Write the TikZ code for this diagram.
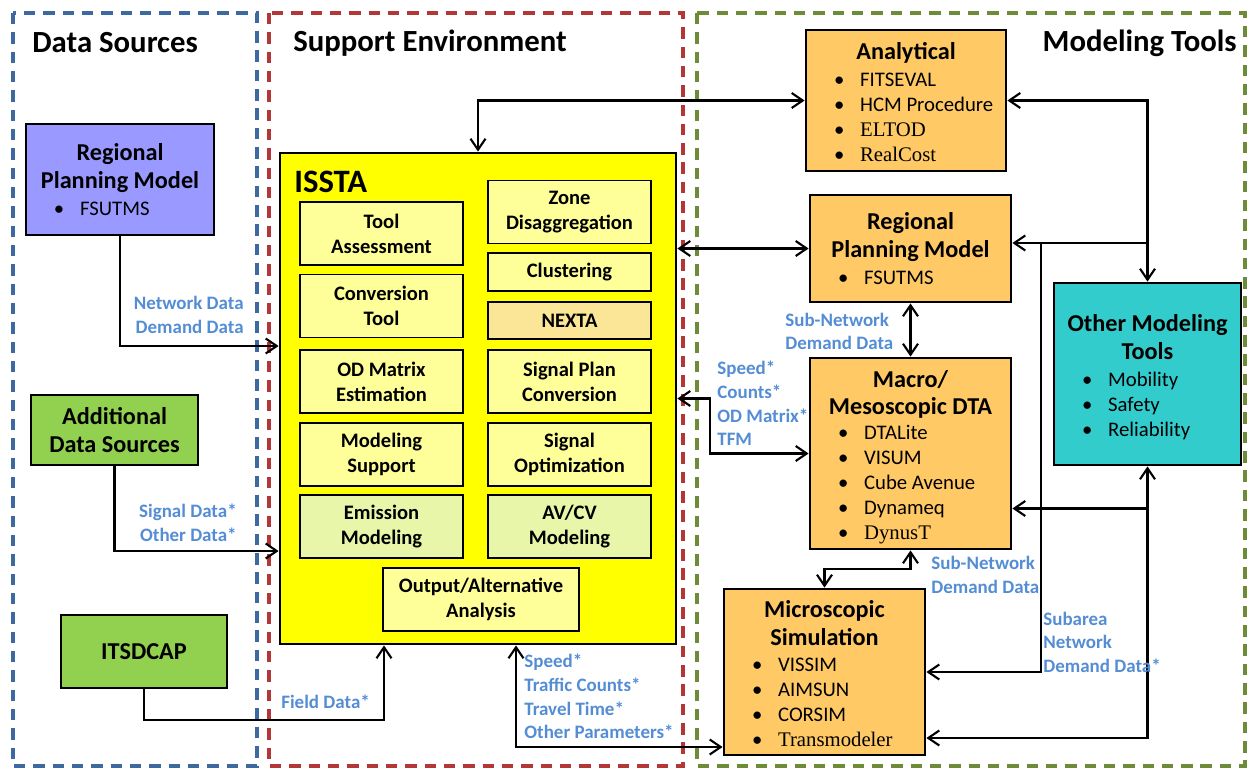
\documentclass[tikz,border=0pt]{standalone}
\usepackage{fontspec}
\setmainfont{Carlito}
\newfontfamily\tnr{Liberation Serif}
\usetikzlibrary{arrows.meta}

\definecolor{srcblue}{RGB}{60,105,160}
\definecolor{envred}{RGB}{180,55,55}
\definecolor{toolgreen}{RGB}{110,140,55}
\definecolor{rpmpurple}{RGB}{153,153,255}
\definecolor{srcgreen}{RGB}{146,208,80}
\definecolor{isstayellow}{RGB}{255,255,0}
\definecolor{subyellow}{RGB}{255,255,153}
\definecolor{nextatan}{RGB}{250,230,150}
\definecolor{subgreen}{RGB}{232,246,170}
\definecolor{toolorange}{RGB}{255,201,102}
\definecolor{otherteal}{RGB}{51,204,204}
\definecolor{lblblue}{RGB}{84,141,212}

\newcommand{\ttlfont}{\bfseries\fontsize{13.8}{16}\selectfont}
\newcommand{\itmfont}{\mdseries\fontsize{11.8}{14.2}\selectfont}
% bullet list, indented from the left edge of a box of width #1
\newcommand{\itemsof}[2]{\raisebox{0pt}[\height][\dimexpr\depth-6pt\relax]{%
    \makebox[#1][l]{\hspace{5.6mm}{\itmfont
    \begin{tabular}[t]{@{}l@{\hspace{9pt}}l@{}}#2\end{tabular}}}}}

\begin{document}
\begin{tikzpicture}[x=0.2mm, y=-0.2mm, >={Straight Barb[length=2.2mm, width=3mm]},
    frame/.style={line width=1.9pt, dash pattern=on 6.5pt off 4.5pt},
    ttl/.style={inner sep=0pt, font=\bfseries\fontsize{17.5}{20}\selectfont},
    tool/.style={draw, line width=1.6pt, align=center, inner sep=0pt, font=\ttlfont},
    sub/.style={draw, line width=1.1pt, fill=subyellow, align=center, inner sep=0pt,
        minimum width=32.6mm, minimum height=12.6mm,
        font=\bfseries\fontsize{11.7}{14.2}\selectfont},
    lbl/.style={text=lblblue, inner sep=0pt, font=\bfseries\fontsize{10.8}{13.4}\selectfont},
    conn/.style={line width=1.2pt}]
\useasboundingbox (0,0) rectangle (1248,770);

% the three areas
\draw[frame, draw=srcblue] (13,13) rectangle (257,766);
\draw[frame, draw=envred] (269,13) rectangle (683,766);
\draw[frame, draw=toolgreen] (697,13) rectangle (1245,766);
\node[ttl, anchor=west] (src_ttl) at (32,43) {Data Sources};
\node[ttl, anchor=west] (env_ttl) at (293,43) {Support Environment};
\node[ttl, anchor=east] (tool_ttl) at (1237,43) {Modeling Tools};

% data sources
\node[tool, fill=rpmpurple, minimum width=37.6mm, minimum height=22.2mm](rpm_src)
    at(120,179.5){Regional\\Planning Model\\[-1pt]\itemsof{37.6mm}{\textbullet & FSUTMS}};
\node[tool, fill=srcgreen, minimum width=33.4mm, minimum height=14mm](add_src)
    at(114.5,430){Additional\\Data Sources};
\node[tool, fill=srcgreen, minimum width=33.2mm, minimum height=14.6mm](itsdcap)
    at(144,651.5){ITSDCAP};

% support environment
\node[draw, line width=1.6pt, fill=isstayellow, minimum width=79.2mm,
    minimum height=98.2mm, inner sep=0pt](issta)at(478,398.5){};
\node[ttl, anchor=west, font=\bfseries\fontsize{18.6}{20}\selectfont](issta_lbl)
    at(294,182){ISSTA};
\node[sub](tool_assess)at(381.5,233.5){Tool\\Assessment};
\node[sub](conv_tool)at(381.5,306){Conversion\\Tool};
\node[sub](od_est)at(381.5,381.5){OD Matrix\\Estimation};
\node[sub](model_supp)at(381.5,454.5){Modeling\\Support};
\node[sub, fill=subgreen](emis_model)at(381.5,526.5){Emission\\Modeling};
\node[sub](zone_dis)at(569.5,212){Zone\\Disaggregation};
\node[sub, minimum height=7.6mm](clustering)at(569.5,272){Clustering};
\node[sub, minimum height=7.4mm, fill=nextatan](nexta)at(569.5,320.5){NEXTA};
\node[sub](sig_plan)at(569.5,381.5){Signal Plan\\Conversion};
\node[sub](sig_opt)at(569.5,454.5){Signal\\Optimization};
\node[sub, fill=subgreen](avcv_model)at(569.5,526.5){AV/CV\\Modeling};
\node[sub, minimum width=39.2mm](output_alt)at(481,599.5){Output/Alternative\\Analysis};

% modeling tools
\node[tool, fill=toolorange, minimum width=40mm, minimum height=28.2mm](analytical)
    at(906,100.5){Analytical\\[-1pt]\itemsof{40mm}{\textbullet & FITSEVAL\\
    \textbullet & HCM Procedure\\ \textbullet & {\tnr ELTOD}\\ \textbullet & {\tnr RealCost}}};
\node[tool, fill=toolorange, minimum width=40.2mm, minimum height=21.4mm](rpm_tool)
    at(910.5,248.5){Regional\\Planning Model\\[-1pt]\itemsof{40.2mm}{\textbullet & FSUTMS}};
\node[tool, fill=otherteal, minimum width=37.4mm, minimum height=36.4mm](other_tools)
    at(1147.5,374){Other Modeling\\Tools\\[-1pt]\itemsof{37.4mm}{\textbullet & Mobility\\
    \textbullet & Safety\\ \textbullet & Reliability}};
\node[tool, fill=toolorange, minimum width=40.2mm, minimum height=38.2mm](macro_dta)
    at(910.5,453.5){Macro/\\[-0.6pt]Mesoscopic DTA\\[-1.6pt]\itemsof{40.2mm}{\textbullet & DTALite\\
    \textbullet & VISUM\\ \textbullet & Cube Avenue\\ \textbullet & Dynameq\\
    \textbullet & {\tnr DynusT}}};
\node[tool, fill=toolorange, minimum width=40.2mm, minimum height=33.2mm](micro_sim)
    at(824.5,672){Microscopic\\Simulation\\[-1pt]\itemsof{40.2mm}{\textbullet & VISSIM\\
    \textbullet & AIMSUN\\ \textbullet & CORSIM\\ \textbullet & {\tnr Transmodeler}}};

% data flows
\draw[conn, ->](rpm_src.south) |- ([yshift=10.5mm]issta.west);
\draw[conn, ->](add_src.south) |- ([yshift=-30.5mm]issta.west);
\draw[conn, ->](itsdcap.south) -- ++(0,31) -| ([xshift=-18.8mm]issta.south);
\draw[conn, <->]([xshift=7.6mm]issta.south) |- ([yshift=-15mm]micro_sim.west);
\draw[conn, <->](issta.north) |- (analytical.west);
\draw[conn, <->](issta.east |- rpm_tool.west) -- (rpm_tool.west);
\draw[conn, <->](issta.east) -- ++(33,0) |- (macro_dta.west);
\draw[conn, <->](rpm_tool.south) -- (macro_dta.north);
\draw[conn, <->](macro_dta.south) -- ++(0,19) -| (micro_sim.north);
\draw[conn, <->](analytical.east) -| (other_tools.north);
\coordinate (rpm_in) at ([yshift=1.1mm]rpm_tool.east);
\draw[conn, ->](other_tools.north |- rpm_in) -- (rpm_in);
\draw[conn, ->]([xshift=5.8mm]rpm_in) |- (micro_sim.east);
\draw[conn, <->](other_tools.south) |- ([yshift=-13.2mm]micro_sim.east);
\coordinate (dta_in) at ([yshift=-11mm]macro_dta.east);
\draw[conn, ->](other_tools.south |- dta_in) -- (dta_in);

% flow labels
\node[lbl, anchor=east, align=right](net_lbl)at(244,315){Network Data\\Demand Data};
\node[lbl, anchor=east, align=right](sig_lbl)at(237,522.5){Signal Data*\\Other Data*};
\node[lbl, anchor=west](field_lbl)at(281,702){Field Data*};
\node[lbl, anchor=west, align=left](speed_lbl)at(524,696.5)
    {Speed*\\Traffic Counts*\\Travel Time*\\Other Parameters*};
\node[lbl, anchor=west, align=left](dta_lbl)at(717,403.5){Speed*\\Counts*\\OD Matrix*\\TFM};
\node[lbl, anchor=west, align=left](sub_lbl_a)at(785,331.5){Sub-Network\\Demand Data};
\node[lbl, anchor=west, align=left](sub_lbl_b)at(931,575){Sub-Network\\Demand Data};
\node[lbl, anchor=west, align=left](subarea_lbl)at(1043,642)
    {Subarea\\Network\\Demand Data*};
\end{tikzpicture}
\end{document}
